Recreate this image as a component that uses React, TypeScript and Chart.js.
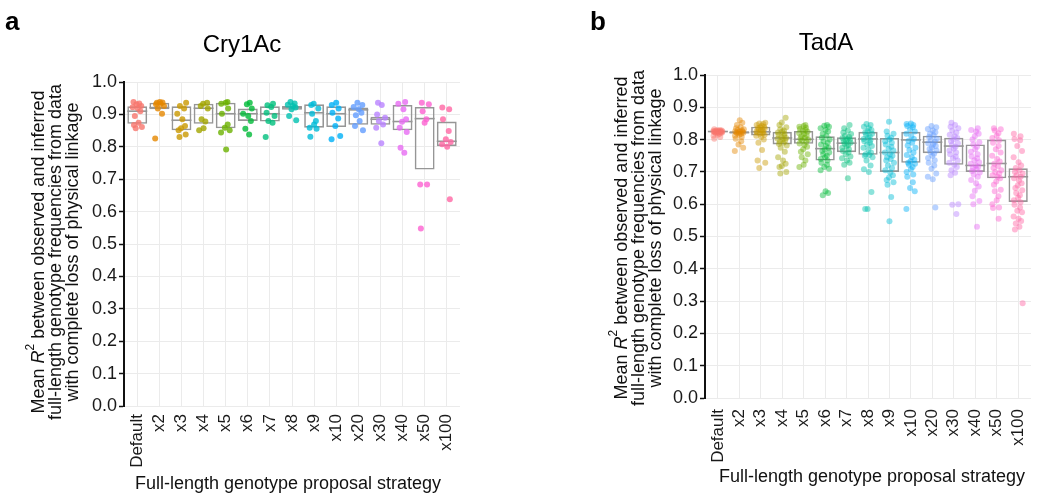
import React, { useEffect, useRef } from "react";
import { Chart, registerables } from "chart.js";

Chart.register(...registerables);

const FONT = "'Liberation Sans', Arial, Helvetica, sans-serif";

// ---------- data ----------
const CATEGORIES = ["Default", "x2", "x3", "x4", "x5", "x6", "x7", "x8", "x9", "x10", "x20", "x30", "x40", "x50", "x100"];
const Y_TICKS = [0.0, 0.1, 0.2, 0.3, 0.4, 0.5, 0.6, 0.7, 0.8, 0.9, 1.0];
const HUE_COLORS = ["#F8766D", "#E58700", "#C99800", "#A3A500", "#6BB100", "#00BA38", "#00BF7D", "#00C0AF", "#00BCD8", "#00B0F6", "#619CFF", "#B983FF", "#E76BF3", "#FD61D1", "#FF67A4"];

const CRY1AC_Q1 = [0.871, 0.916, 0.851, 0.871, 0.857, 0.880, 0.878, 0.914, 0.859, 0.861, 0.868, 0.868, 0.851, 0.730, 0.802];
const CRY1AC_MEDIAN = [0.910, 0.921, 0.882, 0.919, 0.902, 0.902, 0.902, 0.921, 0.905, 0.902, 0.914, 0.885, 0.878, 0.887, 0.817];
const CRY1AC_Q3 = [0.925, 0.936, 0.925, 0.933, 0.936, 0.918, 0.925, 0.926, 0.931, 0.925, 0.921, 0.893, 0.929, 0.923, 0.878];
const CRY1AC_POINTS: number[][] = [
  [0.938, 0.934, 0.931, 0.926, 0.922, 0.919, 0.910, 0.895, 0.874, 0.867, 0.861, 0.857],
  [0.938, 0.937, 0.936, 0.933, 0.931, 0.926, 0.918, 0.902, 0.826],
  [0.936, 0.926, 0.918, 0.902, 0.885, 0.864, 0.857, 0.851, 0.838, 0.830],
  [0.936, 0.933, 0.926, 0.918, 0.885, 0.878, 0.857, 0.851],
  [0.938, 0.936, 0.933, 0.918, 0.902, 0.869, 0.859, 0.851, 0.844, 0.792],
  [0.936, 0.931, 0.918, 0.902, 0.895, 0.880, 0.856, 0.838],
  [0.933, 0.928, 0.923, 0.905, 0.895, 0.880, 0.874, 0.830],
  [0.938, 0.934, 0.930, 0.926, 0.921, 0.916, 0.895, 0.882],
  [0.933, 0.929, 0.918, 0.902, 0.880, 0.869, 0.859, 0.856, 0.831],
  [0.936, 0.929, 0.918, 0.905, 0.887, 0.864, 0.833, 0.823],
  [0.936, 0.929, 0.923, 0.916, 0.905, 0.897, 0.880, 0.864, 0.851],
  [0.936, 0.929, 0.900, 0.890, 0.880, 0.869, 0.859, 0.811],
  [0.938, 0.933, 0.916, 0.885, 0.877, 0.859, 0.846, 0.797, 0.782],
  [0.936, 0.931, 0.910, 0.885, 0.874, 0.684, 0.684, 0.548],
  [0.921, 0.916, 0.885, 0.849, 0.823, 0.815, 0.808, 0.800, 0.638],
];

const TADA_Q1 = [0.823, 0.819, 0.813, 0.785, 0.787, 0.735, 0.761, 0.753, 0.700, 0.728, 0.758, 0.722, 0.700, 0.680, 0.607];
const TADA_MEDIAN = [0.825, 0.822, 0.824, 0.805, 0.801, 0.772, 0.789, 0.802, 0.760, 0.799, 0.792, 0.780, 0.720, 0.726, 0.685];
const TADA_Q3 = [0.827, 0.826, 0.840, 0.824, 0.827, 0.810, 0.807, 0.824, 0.805, 0.824, 0.812, 0.806, 0.785, 0.800, 0.711];
const TADA_POINTS: number[][] = [
  [0.832, 0.830, 0.829, 0.828, 0.827, 0.827, 0.826, 0.826, 0.826, 0.825, 0.825, 0.825, 0.824, 0.824, 0.823, 0.823, 0.822, 0.822, 0.821, 0.820, 0.818, 0.815, 0.812, 0.808, 0.803],
  [0.860, 0.852, 0.845, 0.838, 0.835, 0.832, 0.830, 0.828, 0.826, 0.825, 0.824, 0.823, 0.822, 0.821, 0.820, 0.818, 0.815, 0.812, 0.808, 0.803, 0.795, 0.785, 0.775, 0.765],
  [0.852, 0.850, 0.848, 0.845, 0.843, 0.840, 0.838, 0.836, 0.834, 0.832, 0.830, 0.828, 0.826, 0.824, 0.822, 0.820, 0.818, 0.815, 0.812, 0.808, 0.800, 0.790, 0.768, 0.735, 0.728, 0.712],
  [0.868, 0.853, 0.845, 0.838, 0.832, 0.828, 0.825, 0.822, 0.818, 0.815, 0.812, 0.808, 0.805, 0.803, 0.800, 0.797, 0.793, 0.790, 0.786, 0.782, 0.775, 0.762, 0.745, 0.735, 0.725, 0.718, 0.715, 0.700, 0.695],
  [0.845, 0.842, 0.840, 0.837, 0.833, 0.830, 0.827, 0.824, 0.820, 0.817, 0.813, 0.810, 0.806, 0.803, 0.800, 0.797, 0.793, 0.788, 0.783, 0.778, 0.770, 0.762, 0.755, 0.745, 0.735, 0.722, 0.715],
  [0.845, 0.843, 0.840, 0.835, 0.830, 0.825, 0.818, 0.812, 0.806, 0.800, 0.795, 0.790, 0.785, 0.780, 0.775, 0.770, 0.765, 0.760, 0.755, 0.750, 0.745, 0.740, 0.735, 0.728, 0.722, 0.715, 0.710, 0.705, 0.640, 0.635, 0.628],
  [0.845, 0.835, 0.828, 0.822, 0.817, 0.812, 0.808, 0.805, 0.802, 0.800, 0.797, 0.794, 0.790, 0.787, 0.783, 0.779, 0.775, 0.770, 0.765, 0.760, 0.755, 0.748, 0.742, 0.735, 0.728, 0.722, 0.680],
  [0.848, 0.845, 0.840, 0.835, 0.830, 0.826, 0.822, 0.818, 0.814, 0.810, 0.806, 0.802, 0.798, 0.795, 0.790, 0.785, 0.780, 0.775, 0.768, 0.760, 0.755, 0.752, 0.750, 0.745, 0.735, 0.720, 0.708, 0.700, 0.638, 0.585, 0.585],
  [0.855, 0.825, 0.818, 0.812, 0.806, 0.800, 0.795, 0.790, 0.785, 0.778, 0.772, 0.766, 0.760, 0.755, 0.750, 0.745, 0.740, 0.735, 0.728, 0.720, 0.712, 0.705, 0.698, 0.690, 0.683, 0.675, 0.668, 0.660, 0.622, 0.547],
  [0.850, 0.848, 0.845, 0.842, 0.838, 0.832, 0.825, 0.818, 0.810, 0.802, 0.796, 0.790, 0.782, 0.775, 0.768, 0.760, 0.752, 0.745, 0.738, 0.733, 0.728, 0.725, 0.722, 0.715, 0.708, 0.700, 0.692, 0.685, 0.668, 0.650, 0.640, 0.585],
  [0.842, 0.838, 0.833, 0.828, 0.823, 0.818, 0.813, 0.808, 0.803, 0.798, 0.793, 0.789, 0.785, 0.780, 0.776, 0.771, 0.766, 0.761, 0.756, 0.750, 0.743, 0.736, 0.728, 0.720, 0.710, 0.695, 0.685, 0.677, 0.590],
  [0.852, 0.845, 0.840, 0.835, 0.828, 0.822, 0.815, 0.810, 0.805, 0.800, 0.795, 0.789, 0.783, 0.778, 0.772, 0.766, 0.760, 0.755, 0.748, 0.742, 0.735, 0.728, 0.722, 0.715, 0.705, 0.697, 0.690, 0.600, 0.598, 0.570],
  [0.835, 0.830, 0.825, 0.818, 0.810, 0.800, 0.792, 0.785, 0.778, 0.770, 0.762, 0.755, 0.748, 0.742, 0.736, 0.730, 0.725, 0.720, 0.716, 0.712, 0.708, 0.703, 0.698, 0.692, 0.685, 0.675, 0.665, 0.655, 0.642, 0.625, 0.610, 0.600, 0.530],
  [0.835, 0.832, 0.828, 0.820, 0.812, 0.805, 0.798, 0.790, 0.780, 0.770, 0.760, 0.750, 0.740, 0.732, 0.725, 0.718, 0.712, 0.705, 0.700, 0.695, 0.690, 0.685, 0.680, 0.670, 0.660, 0.645, 0.640, 0.625, 0.612, 0.600, 0.590, 0.588, 0.555],
  [0.818, 0.810, 0.802, 0.798, 0.780, 0.765, 0.745, 0.730, 0.720, 0.712, 0.705, 0.700, 0.695, 0.690, 0.685, 0.680, 0.673, 0.665, 0.658, 0.650, 0.643, 0.635, 0.628, 0.620, 0.612, 0.606, 0.598, 0.590, 0.580, 0.575, 0.562, 0.555, 0.548, 0.540, 0.530, 0.522, 0.293],
];

const Y_TITLE_LINE2 = "full-length genotype frequencies from data";
const Y_TITLE_LINE3 = "with complete loss of physical linkage";
const X_TITLE = "Full-length genotype proposal strategy";

// ---------- drawing helpers (layout only) ----------
const JITTER = [-0.17, 0.09, -0.04, 0.18, -0.21, 0.02, 0.14, -0.11, 0.06, -0.15, 0.21, -0.07, 0.12, -0.19, 0.04, 0.16, -0.02, -0.13, 0.19, -0.09, 0.08, 0.0, -0.2, 0.11];

function rgba(hex: string, a: number) {
  const n = parseInt(hex.slice(1), 16);
  return `rgba(${(n >> 16) & 255},${(n >> 8) & 255},${n & 255},${a})`;
}

const textPlugin = {
  id: "panelText",
  afterDraw(chart: any, _args: any, o: any) {
    const ctx: CanvasRenderingContext2D = chart.ctx;
    ctx.save();
    ctx.fillStyle = "#000";
    ctx.font = `bold 26px ${FONT}`;
    ctx.textAlign = "left";
    ctx.textBaseline = "alphabetic";
    ctx.fillText(o.letter, o.letterX, 30);
    ctx.font = `24px ${FONT}`;
    ctx.textAlign = "center";
    ctx.fillText(o.title, o.titleX, o.titleY);
    ctx.font = `18px ${FONT}`;
    ctx.fillStyle = "#111";
    ctx.fillText(X_TITLE, o.xTitleX, o.xTitleY);
    ctx.save();
    ctx.translate(0, o.yCenter);
    ctx.rotate(-Math.PI / 2);
    ctx.textBaseline = "middle";
    const parts = [
      { t: "Mean ", f: `18px ${FONT}`, dy: 0 },
      { t: "R", f: `italic 18px ${FONT}`, dy: 0 },
      { t: "2", f: `12px ${FONT}`, dy: -8 },
      { t: " between observed and inferred", f: `18px ${FONT}`, dy: 0 },
    ];
    let total = 0;
    for (const p of parts) { ctx.font = p.f; total += ctx.measureText(p.t).width; }
    let cx = -total / 2;
    ctx.textAlign = "left";
    for (const p of parts) {
      ctx.font = p.f;
      ctx.fillText(p.t, cx, o.yLines[0] + p.dy);
      cx += ctx.measureText(p.t).width;
    }
    ctx.font = `18px ${FONT}`;
    ctx.textAlign = "center";
    ctx.fillText(Y_TITLE_LINE2, 0, o.yLines[1]);
    ctx.fillText(Y_TITLE_LINE3, 0, o.yLines[2]);
    ctx.restore();
    ctx.restore();
  },
};

type PanelSpec = {
  q1: number[]; med: number[]; q3: number[]; points: number[][];
  alpha: number; radius: number; spread: number;
  yWidth: number; top: number; right: number; xHeight: number; tickPad: number;
  text: any;
};

function makeConfig(p: PanelSpec): any {
  const pointSets = p.points.map((vals, i) => ({
    type: "scatter",
    order: 1,
    data: vals.map((v, j) => ({ x: i + JITTER[(j + i * 5) % JITTER.length] * p.spread, y: v })),
    backgroundColor: rgba(HUE_COLORS[i], p.alpha),
    borderWidth: 0,
    pointRadius: p.radius,
  }));
  return {
    type: "bar",
    data: {
      datasets: [
        {
          type: "bar",
          order: 2,
          data: CATEGORIES.map((_, i) => ({ x: i, y: [p.q1[i], p.q3[i]] })),
          backgroundColor: "rgba(0,0,0,0)",
          borderColor: "#969696",
          borderWidth: 1.6,
          borderSkipped: false,
          categoryPercentage: 1,
          barPercentage: 0.9,
        },
        {
          type: "scatter",
          order: 2,
          data: CATEGORIES.map((_, i) => ({ x: i, y: p.med[i] })),
          pointStyle: "line",
          pointRadius: 10,
          borderColor: "#969696",
          borderWidth: 1.6,
        },
        ...pointSets,
      ],
    },
    options: {
      responsive: false,
      animation: false,
      events: [],
      layout: { padding: { left: 0, top: p.top, right: p.right, bottom: 0 } },
      plugins: {
        legend: { display: false },
        tooltip: { enabled: false },
        title: { display: false },
        panelText: p.text,
      },
      scales: {
        x: {
          type: "linear",
          min: -0.6,
          max: 14.6,
          offset: false,
          afterBuildTicks: (s: any) => { s.ticks = CATEGORIES.map((_, i) => ({ value: i })); },
          afterFit: (s: any) => { s.height = p.xHeight; },
          ticks: {
            autoSkip: false,
            minRotation: 90,
            maxRotation: 90,
            padding: p.tickPad,
            color: "#1a1a1a",
            font: { family: FONT, size: 17 },
            callback: (v: any) => CATEGORIES[Math.round(Number(v))],
          },
          grid: { color: "#ebebeb", lineWidth: 1, drawTicks: false, offset: false },
          border: { display: false },
        },
        y: {
          type: "linear",
          min: 0,
          max: 1,
          afterBuildTicks: (s: any) => { s.ticks = Y_TICKS.map((v) => ({ value: v })); },
          afterFit: (s: any) => { s.width = p.yWidth; },
          ticks: {
            padding: 2,
            color: "#1a1a1a",
            font: { family: FONT, size: 18 },
            callback: (v: any) => Number(v).toFixed(1),
          },
          grid: { color: "#ebebeb", lineWidth: 1, drawTicks: true, tickLength: 5, tickColor: "#111", tickWidth: 1.5 },
          border: { display: true, color: "#111", width: 2 },
        },
      },
    },
    plugins: [textPlugin],
  };
}

const PANEL_A: PanelSpec = {
  q1: CRY1AC_Q1, med: CRY1AC_MEDIAN, q3: CRY1AC_Q3, points: CRY1AC_POINTS,
  alpha: 0.8, radius: 3, spread: 1.0,
  yWidth: 124, top: 82, right: 65, xHeight: 98, tickPad: 8,
  text: { letter: "a", letterX: 5, title: "Cry1Ac", titleX: 242, titleY: 52, xTitleX: 288, xTitleY: 489, yLines: [39, 56, 73], yCenter: 252 },
};

const PANEL_B: PanelSpec = {
  q1: TADA_Q1, med: TADA_MEDIAN, q3: TADA_Q3, points: TADA_POINTS,
  alpha: 0.45, radius: 3, spread: 1.0,
  yWidth: 180, top: 75, right: 9, xHeight: 106, tickPad: 11,
  text: { letter: "b", letterX: 65, title: "TadA", titleX: 301, titleY: 50, xTitleX: 347, xTitleY: 482, yLines: [97, 114, 131], yCenter: 238 },
};

function Panel({ spec, left }: { spec: PanelSpec; left: number }) {
  const ref = useRef<HTMLCanvasElement>(null);
  useEffect(() => {
    if (!ref.current) return;
    const chart = new Chart(ref.current, makeConfig(spec));
    return () => chart.destroy();
  }, [spec]);
  return (
    <canvas
      ref={ref}
      width={525}
      height={504}
      style={{ position: "absolute", left, top: 0, width: 525, height: 504 }}
    />
  );
}

export default function App() {
  return (
    <div style={{ position: "absolute", left: 0, top: 0, width: 1050, height: 504, background: "#fff" }}>
      <Panel spec={PANEL_A} left={0} />
      <Panel spec={PANEL_B} left={525} />
    </div>
  );
}
